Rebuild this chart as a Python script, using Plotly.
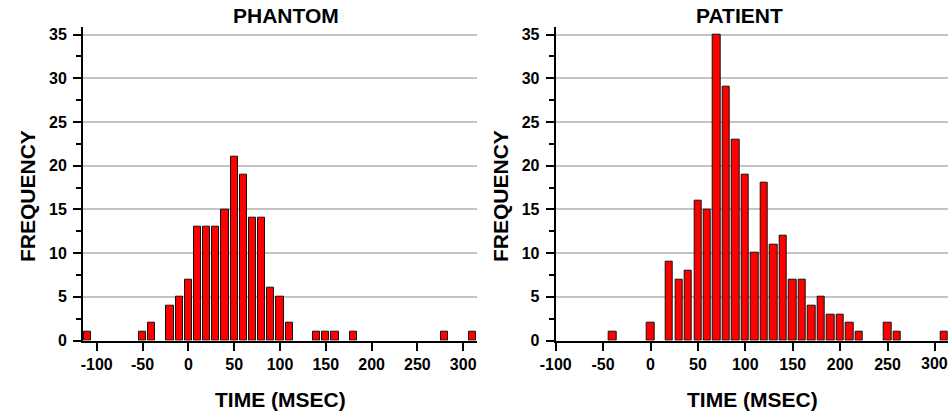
import plotly.graph_objects as go

# ---- data (bin centres in msec, counts) ----
phantom_time = [-110, -50, -40, -20, -10, 0, 10, 20, 30, 40, 50, 60, 70, 80, 90, 100, 110,
                140, 150, 160, 180, 280, 310]
phantom_freq = [1, 1, 2, 4, 5, 7, 13, 13, 13, 15, 21, 19, 14, 14, 6, 5, 2,
                1, 1, 1, 1, 1, 1]

patient_time = [-40, 0, 20, 30, 40, 50, 60, 70, 80, 90, 100, 110, 120, 130, 140, 150, 160,
                170, 180, 190, 200, 210, 220, 250, 260, 310]
patient_freq = [1, 2, 9, 7, 8, 16, 15, 35, 29, 23, 19, 10, 18, 11, 12, 7, 7,
                4, 5, 3, 3, 2, 1, 2, 1, 1]

titles = ["PHANTOM", "PATIENT"]
x_title = "TIME (MSEC)"
y_title = "FREQUENCY"
x_ticks = [-100, -50, 0, 50, 100, 150, 200, 250, 300]
y_ticks = [0, 5, 10, 15, 20, 25, 30, 35]

FONT = "Arial, 'Liberation Sans', sans-serif"
W, H = 948, 415
tick_font = dict(family=FONT, size=16, color="black", weight="bold")

fig = go.Figure()
bar_style = dict(marker=dict(color="#FF0000", line=dict(color="#111111", width=1)),
                 width=7.8, showlegend=False)
fig.add_trace(go.Bar(x=phantom_time, y=phantom_freq, xaxis="x", yaxis="y", **bar_style))
fig.add_trace(go.Bar(x=patient_time, y=patient_freq, xaxis="x2", yaxis="y2", **bar_style))

def xaxis(domain, rng, anchor):
    return dict(domain=domain, range=rng, anchor=anchor, showline=True, linecolor="black",
                linewidth=2, ticks="outside", ticklen=8, tickwidth=2, tickcolor="black",
                tickvals=x_ticks, ticktext=[str(v) for v in x_ticks], showgrid=False,
                zeroline=False, automargin=False, tickfont=tick_font)

def yaxis(anchor):
    return dict(domain=[(H - 340.5) / H, (H - 26.7) / H], range=[0, 35.9], anchor=anchor,
                showline=True, linecolor="black", linewidth=2, ticks="outside", ticklen=8,
                tickwidth=2, tickcolor="black", tickvals=y_ticks,
                ticktext=[str(v) for v in y_ticks], automargin=False,
                showgrid=True, gridcolor="#c4c4c4", gridwidth=1.5, zeroline=False,
                minor=dict(dtick=2.5, tick0=0, ticks="outside", ticklen=5, tickwidth=2,
                           tickcolor="black", showgrid=False),
                ticklabelstandoff=3, tickfont=tick_font)

fig.update_layout(
    width=W, height=H, margin=dict(l=0, r=0, t=0, b=0, autoexpand=False),
    paper_bgcolor="white", plot_bgcolor="white", bargap=0,
    xaxis=xaxis([83 / W, 477.3 / W], [-115, 315.4], "y"),
    yaxis=yaxis("x"),
    xaxis2=xaxis([555.7 / W, 1.0], [-100, 313.8], "y2"),
    yaxis2=yaxis("x2"),
)

ann_font = dict(family=FONT, size=21, color="black", weight="bold")
anns = [
    dict(text=titles[0], x=286 / W, y=(H - 16) / H),
    dict(text=titles[1], x=739.5 / W, y=(H - 16) / H),
    dict(text=x_title, x=280.5 / W, y=(H - 399) / H),
    dict(text=x_title, x=752 / W, y=(H - 399) / H),
    dict(text=y_title, x=27 / W, y=(H - 196) / H, textangle=-90),
    dict(text=y_title, x=500 / W, y=(H - 196) / H, textangle=-90),
]
for a in anns:
    fig.add_annotation(xref="paper", yref="paper", showarrow=False, xanchor="center",
                       yanchor="middle", font=ann_font, **a)

# the last tick label of the right panel runs past the page edge (cut off in the original)
fig.add_annotation(xref="x2", yref="paper", x=x_ticks[-1], y=(H - 363.5) / H,
                   text=str(x_ticks[-1]), showarrow=False, xanchor="center",
                   yanchor="middle", font=tick_font)

fig.write_html("out.html")
